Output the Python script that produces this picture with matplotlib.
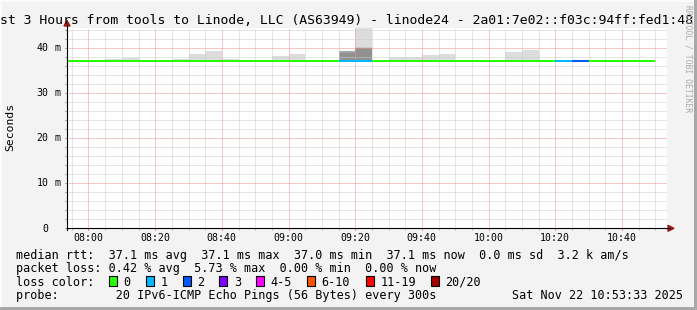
import matplotlib
matplotlib.use("Agg")
import matplotlib.pyplot as plt
from matplotlib.transforms import Affine2D, offset_copy
from matplotlib.patches import Rectangle, Polygon
from matplotlib.lines import Line2D

W, H, DPI = 697, 310, 100
MONO = "DejaVu Sans Mono"

# ---------------- data ----------------
bin_starts = ["07:50", "07:55", "08:00", "08:05", "08:10", "08:15", "08:20", "08:25",
              "08:30", "08:35", "08:40", "08:45", "08:50", "08:55", "09:00", "09:05",
              "09:10", "09:15", "09:20", "09:25", "09:30", "09:35", "09:40", "09:45",
              "09:50", "09:55", "10:00", "10:05", "10:10", "10:15", "10:20", "10:25",
              "10:30", "10:35", "10:40", "10:45"]
median_ms = [37.1, 37.1, 37.1, 37.1, 37.1, 37.1, 37.1, 37.1,
             37.1, 37.1, 37.1, 37.1, 37.1, 37.1, 37.1, 37.1,
             37.1, 37.1, 37.1, 37.1, 37.1, 37.1, 37.1, 37.1,
             37.1, 37.1, 37.1, 37.1, 37.1, 37.1, 37.1, 37.25,
             37.1, 37.1, 37.1, 37.1]
loss_count = [0, 0, 0, 0, 0, 0, 0, 0,
              0, 0, 0, 0, 0, 0, 0, 0,
              0, 1, 1, 0, 0, 0, 0, 0,
              0, 0, 0, 0, 0, 0, 1, 2,
              0, 0, 0, 0]
# highest sorted pings per bin (rank 20 = max)
ping_r20 = [37.1, 37.1, 37.1, 37.6, 37.8, 37.1, 37.1, 37.55,
            38.7, 39.3, 37.6, 37.1, 37.1, 38.35, 38.8, 37.1,
            37.1, 39.35, 48.0, 37.1, 38.05, 38.0, 38.4, 38.8,
            37.1, 37.1, 37.1, 39.2, 39.7, 37.1, 37.1, 37.45,
            37.35, 37.1, 37.1, 37.1]
ping_r19 = [37.1, 37.1, 37.1, 37.1, 37.1, 37.1, 37.1, 37.1,
            37.1, 37.1, 37.1, 37.1, 37.1, 37.1, 37.1, 37.1,
            37.1, 39.35, 40.3, 37.1, 37.1, 37.1, 37.1, 37.1,
            37.1, 37.1, 37.1, 37.1, 37.1, 37.1, 37.1, 37.25,
            37.1, 37.1, 37.1, 37.1]
ping_r18 = [37.1, 37.1, 37.1, 37.1, 37.1, 37.1, 37.1, 37.1,
            37.1, 37.1, 37.1, 37.1, 37.1, 37.1, 37.1, 37.1,
            37.1, 39.35, 40.15, 37.1, 37.1, 37.1, 37.1, 37.1,
            37.1, 37.1, 37.1, 37.1, 37.1, 37.1, 37.1, 37.25,
            37.1, 37.1, 37.1, 37.1]
ping_r17 = [37.1, 37.1, 37.1, 37.1, 37.1, 37.1, 37.1, 37.1,
            37.1, 37.1, 37.1, 37.1, 37.1, 37.1, 37.1, 37.1,
            37.1, 39.35, 40.0, 37.1, 37.1, 37.1, 37.1, 37.1,
            37.1, 37.1, 37.1, 37.1, 37.1, 37.1, 37.1, 37.25,
            37.1, 37.1, 37.1, 37.1]
ping_r16 = [37.1, 37.1, 37.1, 37.1, 37.1, 37.1, 37.1, 37.1,
            37.1, 37.1, 37.1, 37.1, 37.1, 37.1, 37.1, 37.1,
            37.1, 38.9, 40.0, 37.1, 37.1, 37.1, 37.1, 37.1,
            37.1, 37.1, 37.1, 37.1, 37.1, 37.1, 37.1, 37.25,
            37.1, 37.1, 37.1, 37.1]
smoke_colors = ["#dddddd", "#cacaca", "#b7b7b7", "#a4a4a4", "#919191"]

loss_labels = ["0", "1", "2", "3", "4-5", "6-10", "11-19", "20/20"]
loss_colors = ["#26ff00", "#00b8ff", "#0059ff", "#7e00ff", "#ff00ff", "#ff5500", "#ff0000", "#a10000"]
loss_bounds = [0, 1, 2, 3, 5, 10, 19, 20]

x_ticks = ["08:00", "08:20", "08:40", "09:00", "09:20", "09:40", "10:00", "10:20", "10:40"]
y_ticks = [0, 10, 20, 30, 40]
y_tick_units = ["", "m", "m", "m", "m"]
t_start, t_end = "07:53:33", "10:53:33"
y_top = 44.5

title = "st 3 Hours from tools to Linode, LLC (AS63949) - linode24 - 2a01:7e02::f03c:94ff:fed1:48"
legend_rtt = "median rtt:  37.1 ms avg  37.1 ms max  37.0 ms min  37.1 ms now  0.0 ms sd  3.2 k am/s"
legend_loss = "packet loss: 0.42 % avg  5.73 % max  0.00 % min  0.00 % now"
probe_text = "probe:        20 IPv6-ICMP Echo Pings (56 Bytes) every 300s"
date_text = "Sat Nov 22 10:53:33 2025"


def to_min(s):
    p = [int(v) for v in s.split(":")]
    return p[0] * 60 + p[1] + (p[2] / 60 if len(p) > 2 else 0) - 480


def loss_col(n):
    for b, c in zip(loss_bounds, loss_colors):
        if n <= b:
            return c
    return loss_colors[-1]


# ---------------- figure ----------------
fig = plt.figure(figsize=(W / DPI, H / DPI), dpi=DPI, facecolor="#f3f3f3")
pix = Affine2D().scale(1, -1).translate(0, H)  # pixel coords from top-left

L, R, T, B = 67, 667, 28, 228.3
ax = fig.add_axes([L / W, (H - B) / H, (R - L) / W, (B - T) / H])
ax.set_facecolor("white")

starts = [to_min(s) for s in bin_starts]
ends = [s + 5 for s in starts]

ranks = [ping_r20, ping_r19, ping_r18, ping_r17, ping_r16]
for vals, col in zip(ranks, smoke_colors):
    ax.bar(starts, [v - m for v, m in zip(vals, median_ms)], bottom=median_ms,
           width=5, align="edge", color=col, linewidth=0, zorder=1)

ax.hlines(median_ms, starts, ends, colors=[loss_col(n) for n in loss_count],
          linewidth=1.45, zorder=4, capstyle="butt")

ax.set_xlim(to_min(t_start), to_min(t_end))
ax.set_ylim(0, y_top)

xmaj = [to_min(t) for t in x_ticks]
xmin_ticks = [m for m in range(-5, 175, 5) if m % 20 != 0]
ymin_ticks = [v for v in range(2, 45, 2) if v % 10 != 0]
ax.set_xticks(xmaj)
ax.set_xticks(xmin_ticks, minor=True)
ax.set_yticks(y_ticks)
ax.set_yticks(ymin_ticks, minor=True)
ax.set_xticklabels([])
ax.set_yticklabels([])
ax.set_axisbelow(False)
ax.grid(which="minor", color="#cccccc", linestyle=(0, (1, 1)), linewidth=0.72)
ax.grid(which="major", color="#f09090", linestyle=(0, (1, 1)), linewidth=0.72)
ax.tick_params(which="major", axis="x", direction="out", length=1.6, width=0.72, color="#e06060")
ax.tick_params(which="minor", axis="x", direction="out", length=1.6, width=0.72, color="#b0b0b0")
ax.tick_params(which="both", axis="y", direction="out", length=1.6, width=0.72, color="#909090")
for s in ax.spines.values():
    s.set_visible(False)

# tick labels
xt = offset_copy(ax.get_xaxis_transform(), fig=fig, x=0, y=-12.4, units="dots")
for t, m in zip(x_ticks, xmaj):
    ax.text(m, 0, t, transform=xt, ha="center", va="baseline", fontsize=7.1,
            family=MONO, clip_on=False)
for v, u in zip(y_ticks, y_tick_units):
    ytn = offset_copy(ax.get_yaxis_transform(), fig=fig, x=48.5 - L, y=-3.2, units="dots")
    ax.text(0, v, str(v), transform=ytn, ha="right", va="baseline", fontsize=7.1,
            family=MONO, clip_on=False)
    if u:
        ytu = offset_copy(ax.get_yaxis_transform(), fig=fig, x=57.5 - L, y=-3.2, units="dots")
        ax.text(0, v, u, transform=ytu, ha="center", va="baseline", fontsize=7.1,
                family=MONO, clip_on=False)

# axis lines & arrows
fig.add_artist(Line2D([L, 670], [B, B], color="black", linewidth=0.8, transform=pix))
fig.add_artist(Line2D([L, L], [B + 2, 25], color="black", linewidth=0.8, transform=pix))
fig.add_artist(Polygon([(668, B - 3), (674, B), (668, B + 3)], closed=True,
                       color="#9b1c1c", transform=pix))
fig.add_artist(Polygon([(L - 3, 26), (L, 20.5), (L + 3, 26)], closed=True,
                       color="#9b1c1c", transform=pix))

# frame
fig.add_artist(Rectangle((0, 0), W, 2, color="#fbfbfb", transform=pix, linewidth=0))
fig.add_artist(Rectangle((0, 0), 2, H, color="#fbfbfb", transform=pix, linewidth=0))
fig.add_artist(Rectangle((W - 3, 0), 3, H, color="#a8a8a8", transform=pix, linewidth=0))
fig.add_artist(Rectangle((0, H - 3), W, 3, color="#a8a8a8", transform=pix, linewidth=0))

# texts
fig.text(0.3, 24.5, title, transform=pix, ha="left", va="baseline", fontsize=9.42, family=MONO)
fig.text(10.7, 127, "Seconds", transform=pix, ha="center", va="center", rotation=90,
         fontsize=8.2, family=MONO)
fig.text(688, 59, "RRDTOOL / TOBI OETIKER", transform=pix, ha="center", va="center",
         rotation=270, fontsize=5.8, family=MONO, color="#aaaaaa")

LS = 8.5
fig.text(16, 258.5, legend_rtt, transform=pix, ha="left", va="baseline", fontsize=LS, family=MONO)
fig.text(16, 272.2, legend_loss, transform=pix, ha="left", va="baseline", fontsize=LS, family=MONO)
fig.text(16, 285.8, "loss color:", transform=pix, ha="left", va="baseline", fontsize=LS, family=MONO)
box_x = [108.7, 146, 182.7, 219.3, 256, 306.7, 365.7, 430.7]
for bx, lab, col in zip(box_x, loss_labels, loss_colors):
    fig.add_artist(Rectangle((bx, 276), 8, 10, facecolor=col, edgecolor="black",
                             linewidth=0.8, transform=pix))
    fig.text(bx + 14.8, 285.8, lab, transform=pix, ha="left", va="baseline",
             fontsize=LS, family=MONO)
fig.text(16, 299.4, probe_text, transform=pix, ha="left", va="baseline", fontsize=LS, family=MONO)
fig.text(683, 299.4, date_text, transform=pix, ha="right", va="baseline", fontsize=LS, family=MONO)

fig.savefig("out.png", dpi=DPI, facecolor=fig.get_facecolor())
